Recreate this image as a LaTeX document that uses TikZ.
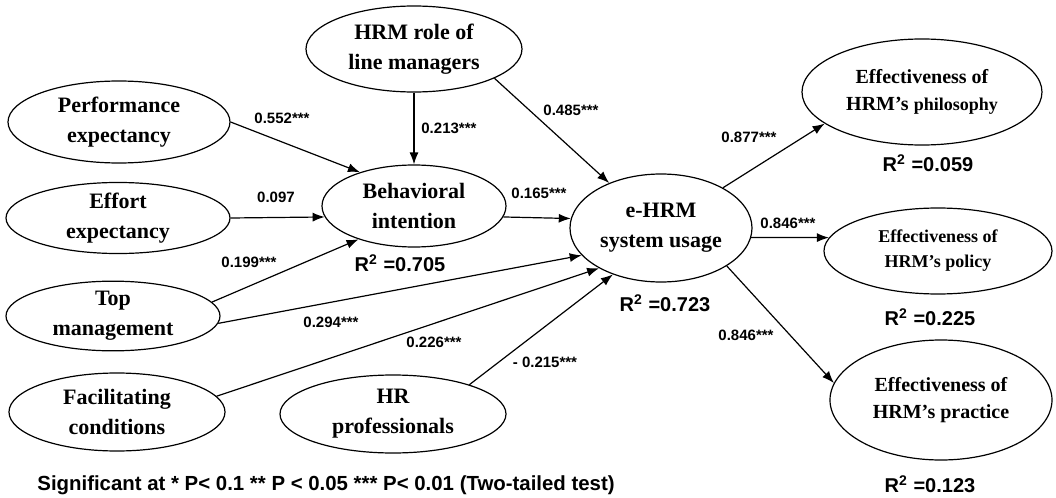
\documentclass[tikz,border=0pt]{standalone}
\usepackage{fontspec}
\setmainfont{Liberation Serif}
\setsansfont{Liberation Sans}
\usetikzlibrary{arrows.meta, positioning, shapes.geometric}

\begin{document}
\begin{tikzpicture}[x=0.5pt, y=-0.5pt,
    construct/.style={draw, ellipse, semithick, align=center, inner sep=0pt,
      font=\fontsize{11}{15}\selectfont\bfseries},
    outcome/.style={construct, font=\fontsize{10}{13.5}\selectfont\bfseries},
    coef/.style={font=\sffamily\bfseries\fontsize{7.5}{9}\selectfont, inner sep=1pt},
    rsq/.style={font=\sffamily\bfseries\fontsize{10}{12}\selectfont, inner sep=1pt},
    arrow/.style={-{Latex[length=6pt,width=4.5pt]}, semithick}
  ]
  \useasboundingbox (0,0) rectangle (1056,498);

  % constructs
  \node[construct, minimum width=108pt, minimum height=43pt] (linemgr) at (414,49) {HRM role of\\line managers};
  \node[construct, minimum width=111pt, minimum height=41pt] (perf) at (119,122) {Performance\\expectancy};
  \node[construct, minimum width=112pt, minimum height=35pt] (effort) at (118,218) {Effort\\expectancy};
  \node[construct, minimum width=92pt, minimum height=41pt] (behav) at (414,206) {Behavioral\\intention};
  \node[construct, minimum width=107pt, minimum height=34pt] (topmgmt) at (113,316) {Top\\management};
  \node[construct, minimum width=108pt, minimum height=39pt] (facil) at (117,412) {Facilitating\\conditions};
  \node[construct, minimum width=113pt, minimum height=39pt] (hrprof) at (393,414) {HR\\professionals};
  \node[construct, minimum width=91pt, minimum height=54pt] (ehrm) at (661,228) {e-HRM\\system usage};
  \node[outcome, minimum width=120pt, minimum height=53pt] (philo) at (922,92) {Effectiveness of\\HRM’s {\fontsize{9}{12}\selectfont philosophy}};
  \node[outcome, minimum width=114pt, minimum height=43pt, font=\fontsize{9}{12.5}\selectfont\bfseries] (policy) at (938,251) {Effectiveness of\\HRM’s policy};
  \node[outcome, minimum width=111pt, minimum height=60pt] (practice) at (941,400) {Effectiveness of\\HRM’s practice};

  % paths
  \draw[arrow] (perf.east) -- (behav.148);
  \draw[arrow] (effort.east) -- (behav.187);
  \draw[arrow] (topmgmt.8) -- (behav.211);
  \draw[arrow] (linemgr) -- (behav);
  \draw[arrow] (linemgr.-20) -- (ehrm.139);
  \draw[arrow] (behav.-7) -- (ehrm.174);
  \draw[arrow] (topmgmt.-4) -- (ehrm.199);
  \draw[arrow] (facil.9) -- (ehrm.213);
  \draw[arrow] (hrprof.21) -- (ehrm.224);
  \draw[arrow] (ehrm.33) -- (philo.198);
  \draw[arrow] (ehrm.-6) -- (policy.173);
  \draw[arrow] (ehrm.-30) -- (practice.171);

  % coefficients
  \node[coef] (c1) at (282,118) {0.552***};
  \node[coef, anchor=west] (c2) at (419,128) {0.213***};
  \node[coef] (c3) at (571,110) {0.485***};
  \node[coef] (c4) at (276,197) {0.097};
  \node[coef] (c5) at (539,193) {0.165***};
  \node[coef] (c6) at (249,262) {0.199***};
  \node[coef] (c7) at (331,322) {0.294***};
  \node[coef] (c8) at (434,342) {0.226***};
  \node[coef] (c9) at (545,362) {- 0.215***};
  \node[coef] (c10) at (749,137) {0.877***};
  \node[coef] (c11) at (788,223) {0.846***};
  \node[coef] (c12) at (746,335) {0.846***};

  % R squared
  \node[rsq] (r1) at (400,263) {R\textsuperscript{2} =0.705};
  \node[rsq] (r2) at (665,303) {R\textsuperscript{2} =0.723};
  \node[rsq] (r3) at (928,163) {R\textsuperscript{2} =0.059};
  \node[rsq] (r4) at (930,317) {R\textsuperscript{2} =0.225};
  \node[rsq] (r5) at (930,484) {R\textsuperscript{2} =0.123};

  \node[rsq, anchor=west, font=\sffamily\bfseries\fontsize{10.2}{12}\selectfont] (note) at (35,485) {Significant at * P< 0.1 ** P < 0.05 *** P< 0.01 (Two-tailed test)};
\end{tikzpicture}
\end{document}
